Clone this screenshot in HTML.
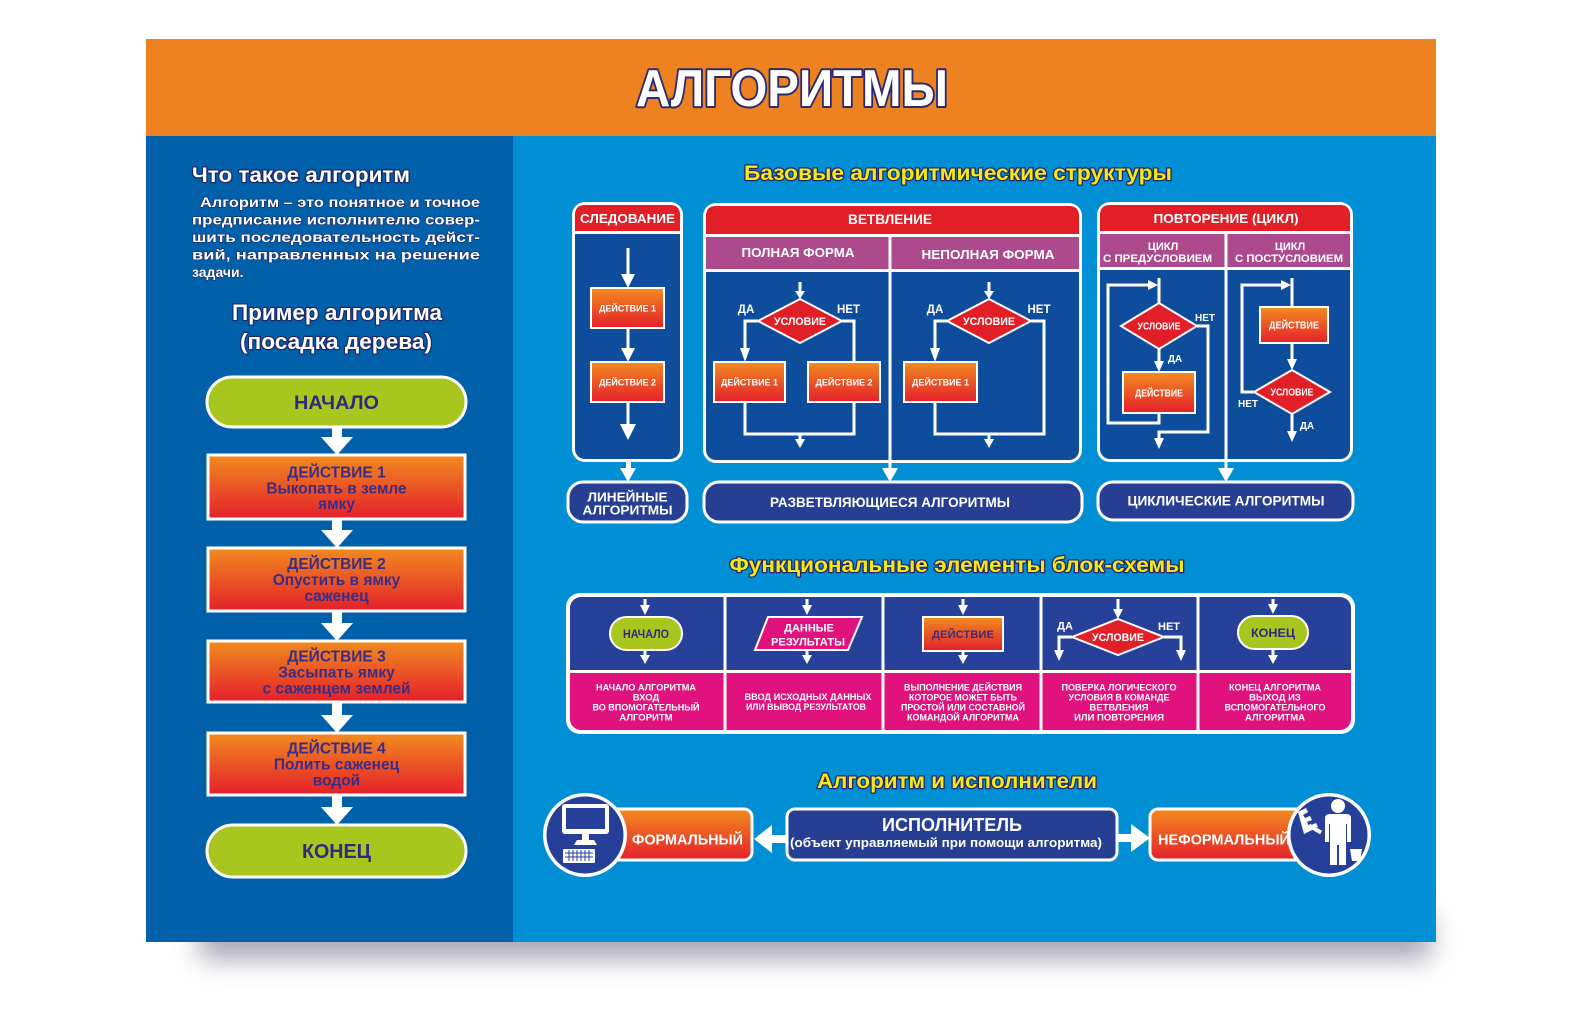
<!DOCTYPE html>
<html><head><meta charset="utf-8">
<style>
html,body{margin:0;padding:0;background:#fff;}
svg{display:block;}
text{font-family:"Liberation Sans",Arial,sans-serif;font-weight:bold;}
</style></head><body>
<svg width="1580" height="1020" viewBox="0 0 1580 1020" xmlns="http://www.w3.org/2000/svg">
<defs>
 <linearGradient id="og" x1="0" y1="0" x2="0" y2="1">
  <stop offset="0" stop-color="#f28c1f"/>
  <stop offset="1" stop-color="#e41f2b"/>
 </linearGradient>
 <filter id="blur" x="-20%" y="-300%" width="140%" height="700%"><feGaussianBlur stdDeviation="13"/></filter>
 <clipPath id="tclip"><rect x="570" y="597" width="781" height="133" rx="11"/></clipPath>
</defs>
<rect width="1580" height="1020" fill="#fff"/>
<!-- shadow -->
<rect x="200" y="915" width="1230" height="44" fill="#8a8898" filter="url(#blur)" opacity="0.75"/>
<!-- poster -->
<rect x="146" y="39" width="1290" height="97" fill="#ef8220"/>
<rect x="146" y="136" width="367" height="806" fill="#0060aa"/>
<rect x="513" y="136" width="923" height="806" fill="#008fd5"/>

<!-- title -->
<text x="792" y="106" font-size="52" text-anchor="middle" textLength="312" lengthAdjust="spacingAndGlyphs" fill="#fff" stroke="#2b2a6e" stroke-width="4" paint-order="stroke fill" stroke-linejoin="round">АЛГОРИТМЫ</text>

<!-- LEFT PANEL -->
<g fill="#fff" stroke="#1d2a6a" paint-order="stroke fill" stroke-linejoin="round">
<text x="192" y="182" font-size="21" textLength="218" lengthAdjust="spacingAndGlyphs" stroke-width="2.5">Что такое алгоритм</text>
<text x="200" y="207" font-size="14" textLength="280" lengthAdjust="spacingAndGlyphs" stroke-width="1.2">Алгоритм – это понятное и точное</text>
<text x="192" y="224.5" font-size="14" textLength="288" lengthAdjust="spacingAndGlyphs" stroke-width="1.2">предписание  исполнителю  совер-</text>
<text x="192" y="242" font-size="14" textLength="288" lengthAdjust="spacingAndGlyphs" stroke-width="1.2">шить  последовательность  дейст-</text>
<text x="192" y="259.5" font-size="14" textLength="288" lengthAdjust="spacingAndGlyphs" stroke-width="1.2">вий,  направленных  на  решение</text>
<text x="192" y="277" font-size="14" stroke-width="1.2">задачи.</text>
<text x="337" y="320" font-size="22" text-anchor="middle" textLength="210" lengthAdjust="spacingAndGlyphs" stroke-width="2.5">Пример алгоритма</text>
<text x="336" y="349" font-size="22" text-anchor="middle" textLength="192" lengthAdjust="spacingAndGlyphs" stroke-width="2.5">(посадка дерева)</text>
</g>

<!-- left flowchart -->
<rect x="207" y="377" width="259" height="50" rx="25" fill="#a9c61f" stroke="#fff" stroke-width="3"/>
<text x="336.5" y="409" font-size="19" text-anchor="middle" textLength="85" lengthAdjust="spacingAndGlyphs" fill="#2f2a7c">НАЧАЛО</text>

<g fill="#fff">
<rect x="332" y="426" width="10" height="13"/><polygon points="321,437 353,437 337,455"/>
<rect x="332" y="518" width="10" height="13"/><polygon points="321,530 353,530 337,548"/>
<rect x="332" y="610" width="10" height="14"/><polygon points="321,623 353,623 337,641"/>
<rect x="332" y="701" width="10" height="15"/><polygon points="321,715 353,715 337,733"/>
<rect x="332" y="794" width="10" height="14"/><polygon points="321,807 353,807 337,825"/>
</g>

<g stroke="#fff" stroke-width="3" fill="url(#og)">
<rect x="208" y="455" width="257" height="64"/>
<rect x="208" y="548" width="257" height="63"/>
<rect x="208" y="641" width="257" height="61"/>
<rect x="208" y="733" width="257" height="62"/>
</g>
<g font-size="15.5" text-anchor="middle" fill="#3b2c84">
<text x="336.5" y="477.5">ДЕЙСТВИЕ 1</text>
<text x="336.5" y="493.5">Выкопать в земле</text>
<text x="336.5" y="509">ямку</text>
<text x="336.5" y="569">ДЕЙСТВИЕ 2</text>
<text x="336.5" y="585">Опустить в ямку</text>
<text x="336.5" y="601">саженец</text>
<text x="336.5" y="661.5">ДЕЙСТВИЕ 3</text>
<text x="336.5" y="677.5">Засыпать ямку</text>
<text x="336.5" y="693.5">с саженцем землей</text>
<text x="336.5" y="753.5">ДЕЙСТВИЕ 4</text>
<text x="336.5" y="769.5">Полить саженец</text>
<text x="336.5" y="785.5">водой</text>
</g>

<rect x="207" y="825" width="259" height="52" rx="26" fill="#a9c61f" stroke="#fff" stroke-width="3"/>
<text x="336.5" y="858" font-size="20" text-anchor="middle" textLength="69" lengthAdjust="spacingAndGlyphs" fill="#2f2a7c">КОНЕЦ</text>

<!-- RIGHT: headings -->
<g fill="#f6e812" stroke="#24286e" stroke-width="2.5" paint-order="stroke fill" stroke-linejoin="round" font-size="21" text-anchor="middle">
<text x="958" y="180" textLength="428" lengthAdjust="spacingAndGlyphs">Базовые алгоритмические структуры</text>
<text x="957" y="572" textLength="455" lengthAdjust="spacingAndGlyphs">Функциональные элементы блок-схемы</text>
<text x="957" y="788" textLength="280" lengthAdjust="spacingAndGlyphs">Алгоритм и исполнители</text>
</g>

<!-- СЛЕДОВАНИЕ -->
<rect x="572" y="202" width="111" height="260" rx="13" fill="#fff"/>
<rect x="575" y="205" width="105" height="254" rx="10" fill="#0e4d9c"/>
<path d="M575,231 V215 Q575,205 585,205 H670 Q680,205 680,215 V231 Z" fill="#e21e26"/>
<rect x="575" y="231" width="105" height="3" fill="#fff"/>
<text x="627.5" y="223" font-size="13" text-anchor="middle" textLength="95" lengthAdjust="spacingAndGlyphs" fill="#fff">СЛЕДОВАНИЕ</text>
<g stroke="#fff" stroke-width="3">
<line x1="628" y1="248" x2="628" y2="276"/>
<line x1="628" y1="328" x2="628" y2="350"/>
<line x1="628" y1="402" x2="628" y2="426"/>
</g>
<g fill="#fff">
<polygon points="621,274 635,274 628,288"/>
<polygon points="621,348 635,348 628,362"/>
<polygon points="620,424 636,424 628,440"/>
<rect x="626" y="461" width="5" height="9"/><polygon points="620,468 636,468 628,482"/>
</g>
<g stroke="#fff" stroke-width="2" fill="url(#og)">
<rect x="591" y="288" width="73" height="40"/>
<rect x="591" y="362" width="73" height="40"/>
</g>
<g font-size="9" fill="#fff" text-anchor="middle">
<text x="627.5" y="311.5" textLength="57" lengthAdjust="spacingAndGlyphs">ДЕЙСТВИЕ 1</text>
<text x="627.5" y="385.5" textLength="57" lengthAdjust="spacingAndGlyphs">ДЕЙСТВИЕ 2</text>
</g>
<rect x="568" y="482" width="119" height="40" rx="15" fill="#263f92" stroke="#fff" stroke-width="3"/>
<g font-size="13" fill="#fff" text-anchor="middle">
<text x="627.5" y="501.5" textLength="80" lengthAdjust="spacingAndGlyphs">ЛИНЕЙНЫЕ</text>
<text x="627.5" y="514.5" textLength="90" lengthAdjust="spacingAndGlyphs">АЛГОРИТМЫ</text>
</g>

<!-- ВЕТВЛЕНИЕ -->
<rect x="703" y="203" width="379" height="260" rx="13" fill="#fff"/>
<rect x="706" y="206" width="373" height="254" rx="10" fill="#0e4d9c"/>
<path d="M706,234 V216 Q706,206 716,206 H1069 Q1079,206 1079,216 V234 Z" fill="#e21e26"/>
<rect x="706" y="234" width="373" height="3" fill="#fff"/>
<rect x="706" y="237" width="373" height="32" fill="#ad4a8e"/>
<rect x="706" y="269" width="373" height="3" fill="#fff"/>
<rect x="888.5" y="237" width="3" height="233" fill="#fff"/>
<polygon points="882,468 898,468 890,482" fill="#fff"/>
<g fill="#fff" text-anchor="middle">
<text x="890" y="224" font-size="13.5" textLength="84" lengthAdjust="spacingAndGlyphs">ВЕТВЛЕНИЕ</text>
<text x="798" y="257" font-size="13" textLength="113" lengthAdjust="spacingAndGlyphs">ПОЛНАЯ ФОРМА</text>
<text x="988" y="259" font-size="13" textLength="133" lengthAdjust="spacingAndGlyphs">НЕПОЛНАЯ ФОРМА</text>
</g>
<!-- full form -->
<g stroke="#fff" stroke-width="3" fill="none">
<line x1="800" y1="282" x2="800" y2="292"/>
<polyline points="758,321 745,321 745,350"/>
<polyline points="842,321 854,321 854,362"/>
<polyline points="745,402 745,434 854,434 854,402"/>
<line x1="800" y1="434" x2="800" y2="441"/>
<line x1="989" y1="282" x2="989" y2="292"/>
<polyline points="947,321 935,321 935,350"/>
<polyline points="1031,321 1044,321 1044,434 935,434 935,402"/>
<line x1="989" y1="434" x2="989" y2="441"/>
</g>
<g fill="#fff">
<polygon points="795,291 805,291 800,299"/>
<polygon points="740,348 750,348 745,362"/>
<polygon points="795,439 805,439 800,448"/>
<polygon points="984,291 994,291 989,299"/>
<polygon points="930,348 940,348 935,362"/>
<polygon points="984,439 994,439 989,448"/>
</g>
<g fill="#e21e26" stroke="#fff" stroke-width="2">
<polygon points="800,299 842,321 800,343 758,321"/>
<polygon points="989,299 1031,321 989,343 947,321"/>
</g>
<g stroke="#fff" stroke-width="2" fill="url(#og)">
<rect x="714" y="362" width="71" height="40"/>
<rect x="808" y="362" width="72" height="40"/>
<rect x="904" y="362" width="73" height="40"/>
</g>
<g fill="#fff" text-anchor="middle">
<text x="800" y="325" font-size="11" textLength="52" lengthAdjust="spacingAndGlyphs">УСЛОВИЕ</text>
<text x="989" y="325" font-size="11" textLength="52" lengthAdjust="spacingAndGlyphs">УСЛОВИЕ</text>
<text x="746" y="313" font-size="11.5">ДА</text>
<text x="848.5" y="313" font-size="11.5">НЕТ</text>
<text x="935" y="313" font-size="11.5">ДА</text>
<text x="1039" y="313" font-size="11.5">НЕТ</text>
<text x="749.5" y="385.5" font-size="9" textLength="57" lengthAdjust="spacingAndGlyphs">ДЕЙСТВИЕ 1</text>
<text x="844" y="385.5" font-size="9" textLength="57" lengthAdjust="spacingAndGlyphs">ДЕЙСТВИЕ 2</text>
<text x="940.5" y="385.5" font-size="9" textLength="57" lengthAdjust="spacingAndGlyphs">ДЕЙСТВИЕ 1</text>
</g>
<rect x="704" y="482" width="378" height="40" rx="15" fill="#263f92" stroke="#fff" stroke-width="3"/>
<text x="890" y="507" font-size="13.5" fill="#fff" text-anchor="middle" textLength="240" lengthAdjust="spacingAndGlyphs">РАЗВЕТВЛЯЮЩИЕСЯ АЛГОРИТМЫ</text>

<!-- ПОВТОРЕНИЕ -->
<rect x="1097" y="202" width="256" height="260" rx="13" fill="#fff"/>
<rect x="1100" y="205" width="250" height="254" rx="10" fill="#0e4d9c"/>
<path d="M1100,231 V215 Q1100,205 1110,205 H1340 Q1350,205 1350,215 V231 Z" fill="#e21e26"/>
<rect x="1100" y="231" width="250" height="3" fill="#fff"/>
<rect x="1100" y="234" width="250" height="33" fill="#ad4a8e"/>
<rect x="1100" y="267" width="250" height="3" fill="#fff"/>
<rect x="1224.5" y="234" width="3" height="236" fill="#fff"/>
<polygon points="1218,468 1234,468 1226,482" fill="#fff"/>
<g fill="#fff" text-anchor="middle">
<text x="1226" y="223" font-size="13" textLength="145" lengthAdjust="spacingAndGlyphs">ПОВТОРЕНИЕ (ЦИКЛ)</text>
<text x="1163" y="250" font-size="11">ЦИКЛ</text>
<text x="1157.5" y="262" font-size="11" textLength="109" lengthAdjust="spacingAndGlyphs">С ПРЕДУСЛОВИЕМ</text>
<text x="1290" y="250" font-size="11">ЦИКЛ</text>
<text x="1289" y="262" font-size="11" textLength="108" lengthAdjust="spacingAndGlyphs">С ПОСТУСЛОВИЕМ</text>
</g>
<g stroke="#fff" stroke-width="3" fill="none">
<line x1="1159" y1="278" x2="1159" y2="303"/>
<polyline points="1159,413 1159,423 1108,423 1108,285 1150,285"/>
<polyline points="1197,326 1208,326 1208,432 1159,432 1159,440"/>
<line x1="1159" y1="349" x2="1159" y2="363"/>
<line x1="1292" y1="278" x2="1292" y2="307"/>
<polyline points="1254,392 1242,392 1242,285 1283,285"/>
<line x1="1292" y1="343" x2="1292" y2="361"/>
<line x1="1292" y1="414" x2="1292" y2="433"/>
</g>
<g fill="#fff">
<polygon points="1148,280 1148,290 1158,285"/>
<polygon points="1154,438 1164,438 1159,449"/>
<polygon points="1154,361 1164,361 1159,372"/>
<polygon points="1281,280 1281,290 1291,285"/>
<polygon points="1287,359 1297,359 1292,370"/>
<polygon points="1287,431 1297,431 1292,442"/>
</g>
<g fill="#e21e26" stroke="#fff" stroke-width="2">
<polygon points="1159,303 1197,326 1159,349 1121,326"/>
<polygon points="1292,370 1330,392 1292,414 1254,392"/>
</g>
<g stroke="#fff" stroke-width="2" fill="url(#og)">
<rect x="1123" y="372" width="72" height="41"/>
<rect x="1260" y="307" width="68" height="36"/>
</g>
<g fill="#fff" text-anchor="middle" font-size="10">
<text x="1159" y="329.5" textLength="43" lengthAdjust="spacingAndGlyphs">УСЛОВИЕ</text>
<text x="1292" y="395.5" textLength="43" lengthAdjust="spacingAndGlyphs">УСЛОВИЕ</text>
<text x="1159" y="396.5" textLength="48" lengthAdjust="spacingAndGlyphs">ДЕЙСТВИЕ</text>
<text x="1294" y="328.5" textLength="50" lengthAdjust="spacingAndGlyphs">ДЕЙСТВИЕ</text>
<text x="1205" y="321">НЕТ</text>
<text x="1175" y="362">ДА</text>
<text x="1248" y="407">НЕТ</text>
<text x="1307" y="429">ДА</text>
</g>
<rect x="1098" y="482" width="255" height="38" rx="15" fill="#263f92" stroke="#fff" stroke-width="3"/>
<text x="1226" y="505.5" font-size="13.5" fill="#fff" text-anchor="middle" textLength="197" lengthAdjust="spacingAndGlyphs">ЦИКЛИЧЕСКИЕ АЛГОРИТМЫ</text>

<!-- FUNCTIONAL TABLE -->
<rect x="566" y="593" width="789" height="141" rx="14" fill="#fff"/>
<g clip-path="url(#tclip)">
<rect x="570" y="597" width="781" height="73" fill="#27419a"/>
<rect x="570" y="673" width="781" height="57" fill="#e1127e"/>
</g>
<g fill="#fff">
<rect x="723.5" y="596" width="3" height="135"/>
<rect x="881.5" y="596" width="3" height="135"/>
<rect x="1039.5" y="596" width="3" height="135"/>
<rect x="1196.5" y="596" width="3" height="135"/>
</g>
<g stroke="#fff" stroke-width="3" fill="none">
<line x1="645" y1="599" x2="645" y2="607"/><line x1="645" y1="650" x2="645" y2="656"/>
<line x1="807" y1="599" x2="807" y2="607"/><line x1="807" y1="650" x2="807" y2="656"/>
<line x1="963" y1="599" x2="963" y2="607"/><line x1="963" y1="651" x2="963" y2="656"/>
<line x1="1118" y1="599" x2="1118" y2="611"/>
<polyline points="1072,637 1059,637 1059,652"/>
<polyline points="1164,637 1181,637 1181,652"/>
<line x1="1273" y1="599" x2="1273" y2="606"/><line x1="1273" y1="649" x2="1273" y2="656"/>
</g>
<g fill="#fff">
<polygon points="640,605 650,605 645,615"/><polygon points="640,655 650,655 645,664"/>
<polygon points="802,605 812,605 807,615"/><polygon points="802,655 812,655 807,664"/>
<polygon points="958,605 968,605 963,615"/><polygon points="958,655 968,655 963,664"/>
<polygon points="1113,609 1123,609 1118,619"/>
<polygon points="1054,650 1064,650 1059,661"/>
<polygon points="1176,650 1186,650 1181,661"/>
<polygon points="1268,604 1278,604 1273,614"/><polygon points="1268,655 1278,655 1273,664"/>
</g>
<rect x="610" y="617" width="72" height="33" rx="16.5" fill="#a9c61f" stroke="#fff" stroke-width="2"/>
<polygon points="768,617 862,617 848,650 755,650" fill="#e1127e" stroke="#fff" stroke-width="2"/>
<rect x="923" y="617" width="80" height="34" fill="url(#og)" stroke="#fff" stroke-width="2"/>
<polygon points="1118,619 1164,637 1118,655 1072,637" fill="#e21e26" stroke="#fff" stroke-width="2"/>
<rect x="1238" y="616" width="70" height="33" rx="16.5" fill="#a9c61f" stroke="#fff" stroke-width="2"/>
<g text-anchor="middle">
<text x="646" y="638" font-size="11.5" fill="#2f2a7c" textLength="46" lengthAdjust="spacingAndGlyphs">НАЧАЛО</text>
<text x="809" y="631.5" font-size="11" fill="#fff">ДАННЫЕ</text>
<text x="808" y="645.5" font-size="11" fill="#fff" textLength="74" lengthAdjust="spacingAndGlyphs">РЕЗУЛЬТАТЫ</text>
<text x="963" y="638" font-size="11" fill="#3b2c84" textLength="62" lengthAdjust="spacingAndGlyphs">ДЕЙСТВИЕ</text>
<text x="1118" y="641" font-size="11" fill="#fff" textLength="52" lengthAdjust="spacingAndGlyphs">УСЛОВИЕ</text>
<text x="1065" y="629.5" font-size="11" fill="#fff">ДА</text>
<text x="1169" y="630" font-size="11" fill="#fff">НЕТ</text>
<text x="1273" y="637" font-size="11.5" fill="#2f2a7c" textLength="44" lengthAdjust="spacingAndGlyphs">КОНЕЦ</text>
</g>
<g font-size="9.5" fill="#fff" text-anchor="middle">
<text x="646" y="690.5" textLength="100" lengthAdjust="spacingAndGlyphs">НАЧАЛО АЛГОРИТМА</text>
<text x="646" y="700.5">ВХОД</text>
<text x="646" y="710.5" textLength="107" lengthAdjust="spacingAndGlyphs">ВО ВПОМОГАТЕЛЬНЫЙ</text>
<text x="646" y="720.5">АЛГОРИТМ</text>
<text x="808" y="700" textLength="127" lengthAdjust="spacingAndGlyphs">ВВОД ИСХОДНЫХ ДАННЫХ</text>
<text x="806" y="710" textLength="120" lengthAdjust="spacingAndGlyphs">ИЛИ ВЫВОД РЕЗУЛЬТАТОВ</text>
<text x="963" y="690.5" textLength="118" lengthAdjust="spacingAndGlyphs">ВЫПОЛНЕНИЕ ДЕЙСТВИЯ</text>
<text x="963" y="700.5" textLength="108" lengthAdjust="spacingAndGlyphs">КОТОРОЕ МОЖЕТ БЫТЬ</text>
<text x="963" y="710.5" textLength="124" lengthAdjust="spacingAndGlyphs">ПРОСТОЙ ИЛИ СОСТАВНОЙ</text>
<text x="963" y="720.5" textLength="112" lengthAdjust="spacingAndGlyphs">КОМАНДОЙ АЛГОРИТМА</text>
<text x="1119" y="690.5" textLength="115" lengthAdjust="spacingAndGlyphs">ПОВЕРКА ЛОГИЧЕСКОГО</text>
<text x="1119" y="700.5" textLength="101" lengthAdjust="spacingAndGlyphs">УСЛОВИЯ В КОМАНДЕ</text>
<text x="1119" y="710.5">ВЕТВЛЕНИЯ</text>
<text x="1119" y="720.5">ИЛИ ПОВТОРЕНИЯ</text>
<text x="1275" y="690.5" textLength="92" lengthAdjust="spacingAndGlyphs">КОНЕЦ АЛГОРИТМА</text>
<text x="1275" y="700.5">ВЫХОД ИЗ</text>
<text x="1275" y="710.5" textLength="101" lengthAdjust="spacingAndGlyphs">ВСПОМОГАТЕЛЬНОГО</text>
<text x="1275" y="720.5">АЛГОРИТМА</text>
</g>

<!-- EXECUTORS -->
<rect x="600" y="809" width="152" height="51" rx="8" fill="url(#og)" stroke="#fff" stroke-width="3"/>
<text x="687.5" y="844.5" font-size="15" fill="#fff" text-anchor="middle" textLength="111" lengthAdjust="spacingAndGlyphs">ФОРМАЛЬНЫЙ</text>
<rect x="769" y="835" width="19" height="8" fill="#fff"/>
<polygon points="772,825 772,853 754,839" fill="#fff"/>
<rect x="787" y="809" width="330" height="51" rx="8" fill="#263f92" stroke="#fff" stroke-width="3"/>
<text x="952" y="831" font-size="18" fill="#fff" text-anchor="middle" textLength="140" lengthAdjust="spacingAndGlyphs">ИСПОЛНИТЕЛЬ</text>
<text x="946" y="847" font-size="13" fill="#fff" text-anchor="middle" textLength="312" lengthAdjust="spacingAndGlyphs">(объект управляемый при помощи алгоритма)</text>
<rect x="1116" y="834" width="17" height="8" fill="#fff"/>
<polygon points="1131,824 1131,852 1150,838" fill="#fff"/>
<rect x="1150" y="809" width="165" height="51" rx="8" fill="url(#og)" stroke="#fff" stroke-width="3"/>
<text x="1224" y="844.5" font-size="15" fill="#fff" text-anchor="middle" textLength="132" lengthAdjust="spacingAndGlyphs">НЕФОРМАЛЬНЫЙ</text>

<!-- left circle: computer -->
<circle cx="585" cy="835" r="42" fill="#fff"/>
<circle cx="585" cy="835" r="38.5" fill="#26409a"/>
<rect x="562" y="804" width="47" height="30" rx="3" fill="#fff"/>
<rect x="566" y="808" width="39" height="21" fill="#26409a"/>
<rect x="582" y="833" width="7" height="8" fill="#fff"/>
<path d="M574,845 L577,840 H594 L597,845 Z" fill="#fff"/>
<rect x="563" y="849" width="32" height="14" rx="1.5" fill="#fff"/>
<g stroke="#26409a" stroke-width="1">
<line x1="565" y1="853" x2="593" y2="853"/>
<line x1="565" y1="857" x2="593" y2="857"/>
<line x1="569" y1="850" x2="569" y2="861"/>
<line x1="573" y1="850" x2="573" y2="861"/>
<line x1="577" y1="850" x2="577" y2="861"/>
<line x1="581" y1="850" x2="581" y2="861"/>
<line x1="585" y1="850" x2="585" y2="861"/>
<line x1="589" y1="850" x2="589" y2="861"/>
</g>

<!-- right circle: person -->
<circle cx="1329" cy="835" r="42" fill="#fff"/>
<circle cx="1329" cy="835" r="38.5" fill="#26409a"/>
<g fill="#fff">
<circle cx="1338" cy="806" r="7"/>
<path d="M1325,818 Q1325,814 1330,814 H1346 Q1351,814 1351,818 V842 H1347 V824 H1346 V865 H1339 V845 H1337 V865 H1330 V824 H1329 V842 H1325 Z"/>
<path d="M1350,849 H1362 L1360,861 H1352 Z"/>
<path d="M1298,812 L1306,808 L1308,812 L1303,815 L1305,818 L1310,816 L1312,820 L1307,822 L1309,826 L1316,823 L1318,827 L1304,834 Z"/>
<rect x="1313" y="822" width="4" height="14" transform="rotate(-60 1315 829)"/>
</g>
</svg>
</body></html>
